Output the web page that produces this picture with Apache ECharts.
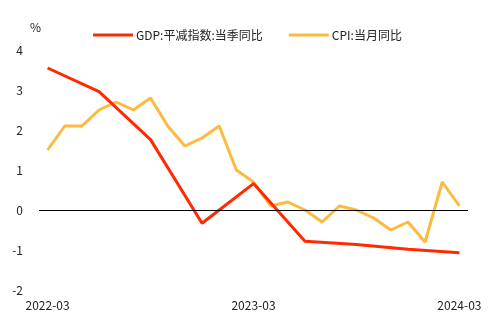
<!DOCTYPE html>
<html><head><meta charset="utf-8">
<script src="https://cdn.jsdelivr.net/npm/echarts@6/dist/echarts.min.js"></script>
<style>html,body{margin:0;padding:0;background:#fff}#c{width:490px;height:326px}</style>
</head><body><div id="c"></div>
<script>
var months = ['2022-03','2022-04','2022-05','2022-06','2022-07','2022-08','2022-09','2022-10','2022-11','2022-12',
'2023-01','2023-02','2023-03','2023-04','2023-05','2023-06','2023-07','2023-08','2023-09','2023-10','2023-11','2023-12',
'2024-01','2024-02','2024-03'];
var cpi = [1.5,2.1,2.1,2.5,2.7,2.5,2.8,2.1,1.6,1.8,2.1,1.0,0.7,0.1,0.2,0.0,-0.3,0.1,0.0,-0.2,-0.5,-0.3,-0.8,0.7,0.1];
var gdpQuarters = ['2022-03','2022-06','2022-09','2022-12','2023-03','2023-06','2023-09','2023-12','2024-03'];
var gdpDeflator = [3.55,2.96,1.76,-0.33,0.66,-0.78,-0.86,-0.98,-1.07];
var yTicks = [-2,-1,0,1,2,3,4];

var gdpData = months.map(function(m){ var i = gdpQuarters.indexOf(m); return i >= 0 ? gdpDeflator[i] : null; });
var font = 'Noto Sans CJK SC, Noto Sans, sans-serif';
var chart = echarts.init(document.getElementById('c'));
chart.setOption({
  animation: false,
  textStyle: {fontFamily: font},
  legend: {
    top: 24, left: 88, itemGap: 26, itemWidth: 40, itemHeight: 3, icon: 'rect',
    textStyle: {fontSize: 12, color: '#222', fontFamily: font, padding: [0,0,0,-2]},
    data: ['GDP:平减指数:当季同比','CPI:当月同比']
  },
  grid: {left: 39, right: 22, top: 50, bottom: 36},
  xAxis: {
    type: 'category', data: months, boundaryGap: true,
    axisLine: {show: false, onZero: false}, axisTick: {show: false},
    axisLabel: {interval: 11, color: '#222', fontSize: 12, margin: 9, fontFamily: font}
  },
  yAxis: {
    type: 'value', min: yTicks[0], max: yTicks[yTicks.length-1], interval: 1,
    name: '%', nameGap: 17, nameTextStyle: {color: '#222', fontSize: 12, align: 'left', padding: [0,0,0,-9]},
    axisLine: {show: false}, axisTick: {show: false}, splitLine: {show: false},
    axisLabel: {color: '#222', fontSize: 12, margin: 16, fontFamily: font}
  },
  series: [
    {name: 'GDP:平减指数:当季同比', type: 'line', data: gdpData, connectNulls: true, symbol: 'none',
     lineStyle: {color: '#FF2A00', width: 3}, itemStyle: {color: '#FF2A00'}, z: 3,
     markLine: {silent: true, symbol: 'none', label: {show: false},
       lineStyle: {color: '#000', width: 1, type: 'solid'}, data: [{yAxis: 0}]}},
    {name: 'CPI:当月同比', type: 'line', data: cpi, symbol: 'none',
     lineStyle: {color: '#FFB93C', width: 3}, itemStyle: {color: '#FFB93C'}, z: 2}
  ]
});
</script></body></html>
